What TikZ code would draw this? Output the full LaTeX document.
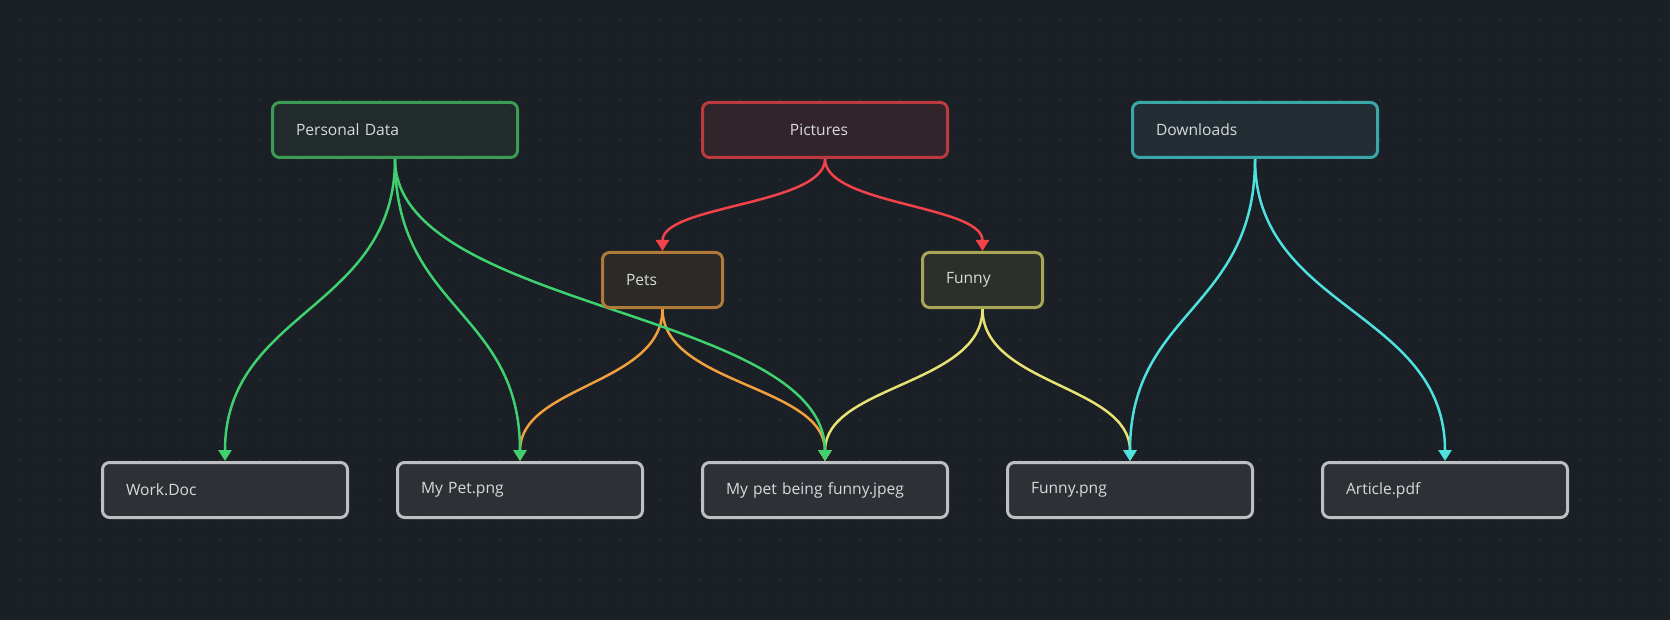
\documentclass[tikz,border=0pt]{standalone}
\usepackage{fontspec}
\setmainfont{Open Sans}
\usetikzlibrary{arrows.meta,calc}

\definecolor{bg}{HTML}{1B1F26}
\definecolor{gridDot}{HTML}{323840}
\definecolor{txt}{HTML}{D8DADC}
% group colours: border, fill, connector
\definecolor{pdB}{HTML}{3A9C55}\definecolor{pdF}{HTML}{222B2C}\definecolor{pdE}{HTML}{3FD06F}
\definecolor{picB}{HTML}{BA3A40}\definecolor{picF}{HTML}{31242A}\definecolor{picE}{HTML}{F2424A}
\definecolor{petB}{HTML}{B27A38}\definecolor{petF}{HTML}{2B2A27}\definecolor{petE}{HTML}{F2A03E}
\definecolor{funB}{HTML}{A8A654}\definecolor{funF}{HTML}{2C302B}\definecolor{funE}{HTML}{E8E272}
\definecolor{dlB}{HTML}{3BA6A8}\definecolor{dlF}{HTML}{222E34}\definecolor{dlE}{HTML}{4DE2DF}
\definecolor{fileB}{HTML}{BDBFC2}\definecolor{fileF}{HTML}{2D3135}

\pgfdeclarelayer{canvas}
\pgfdeclarelayer{wires}
\pgfsetlayers{canvas,wires,main}

\tikzset{
  box/.style={rectangle, rounded corners=7pt, line width=3pt,
    minimum height=55pt, text=txt, font=\fontsize{15.6}{18}\selectfont,
    inner xsep=23.5pt, inner ysep=0pt},
  wide/.style={box, minimum width=245pt, text width=198pt, align=left},
  narrow/.style={box, minimum width=120pt, text width=73pt, align=left},
  filebox/.style={wide, draw=fileB, fill=fileF},
  link/.style={line width=2.5pt, -{Triangle[width=13pt,length=11pt]}},
}

% vertical-tangent bezier from the bottom of one node to the top of another
\newcommand{\flowedge}[3]{% colour, source node, target node
  \draw[link, draw=#1] (#2.south)
    .. controls ($(#2.south)!0.5!(#2.south |- #3.north)$)
           and ($(#3.north)!0.5!(#3.north |- #2.south)$) .. (#3.north);}

\begin{document}
\begin{tikzpicture}[x=1pt, y=-1pt]
  \useasboundingbox (0,0) rectangle (1670,620);
  \begin{pgfonlayer}{canvas}
    \fill[bg] (0,0) rectangle (1670,620);
    % dotted background grid
    \foreach \gx in {20,40,...,1660}{
      \foreach \gy in {20,40,...,600}{
        \fill[gridDot] (\gx,\gy) circle (0.9pt);
      }
    }
  \end{pgfonlayer}

  % folders
  \node[wide, draw=pdB, fill=pdF] (pd) at (395,130) {Personal Data};
  \node[wide, draw=picB, fill=picF, align=center] (pic) at (825,130) {\hspace*{-12pt}Pictures};
  \node[wide, draw=dlB, fill=dlF] (dl) at (1255,130) {Downloads};
  \node[narrow, draw=petB, fill=petF] (pets) at (662.5,280) {Pets};
  \node[narrow, draw=funB, fill=funF] (funny) at (982.5,280) {Funny};

  % files
  \node[filebox] (work) at (225,490) {Work.Doc};
  \node[filebox] (mypet) at (520,490) {My Pet.png};
  \node[filebox] (both) at (825,490) {My pet being funny.jpeg};
  \node[filebox] (funpng) at (1130,490) {Funny.png};
  \node[filebox] (article) at (1445,490) {Article.pdf};

  % connectors, kept beneath the boxes
  \begin{pgfonlayer}{wires}
    \flowedge{picE}{pic}{pets}
    \flowedge{picE}{pic}{funny}
    \flowedge{petE}{pets}{mypet}
    \flowedge{petE}{pets}{both}
    \flowedge{funE}{funny}{both}
    \flowedge{funE}{funny}{funpng}
    \flowedge{pdE}{pd}{work}
    \flowedge{pdE}{pd}{mypet}
    \flowedge{pdE}{pd}{both}
    \flowedge{dlE}{dl}{funpng}
    \flowedge{dlE}{dl}{article}
  \end{pgfonlayer}
\end{tikzpicture}
\end{document}
